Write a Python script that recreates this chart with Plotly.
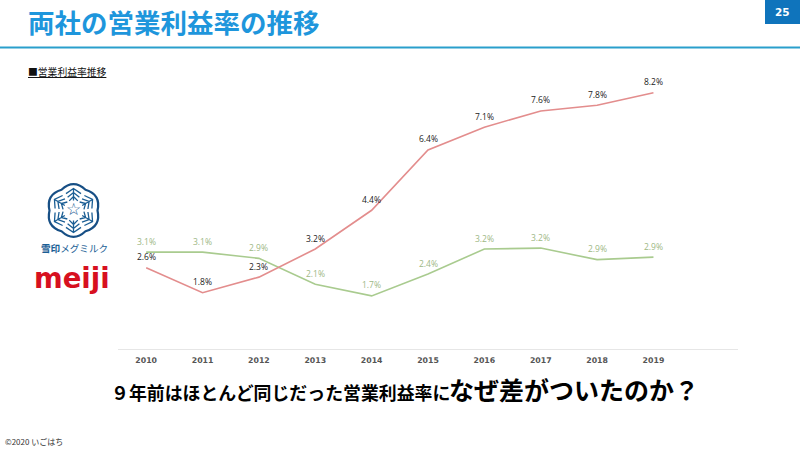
import math
import plotly.graph_objects as go

years = ["2010","2011","2012","2013","2014","2015","2016","2017","2018","2019"]
meiji = [2.6,1.8,2.3,3.2,4.44,6.37,7.1,7.62,7.8,8.2]
megmilk = [3.1,3.1,2.9,2.07,1.7,2.4,3.2,3.23,2.86,2.94]
meiji_labels = [f"{v:.1f}%" for v in meiji]
megmilk_labels = [f"{v:.1f}%" for v in megmilk]

JP = "Noto Sans CJK JP"
W, H = 800, 450
def px(x): return x / W
def py(y): return 1 - y / H

fig = go.Figure()
fig.add_trace(go.Scatter(x=years, y=megmilk, mode="lines", line=dict(color="#A9CB8F", width=1.6),
    cliponaxis=False, showlegend=False, hoverinfo="skip"))
fig.add_trace(go.Scatter(x=years, y=meiji, mode="lines", line=dict(color="#E38D8D", width=1.6),
    cliponaxis=False, showlegend=False, hoverinfo="skip"))

for ys, labels, color in [(megmilk, megmilk_labels, "#9DB885"), (meiji, meiji_labels, "#222222")]:
    for i, (y, t) in enumerate(zip(ys, labels)):
        fig.add_annotation(x=i, y=y, text=t, showarrow=False, yshift=11, yanchor="middle", xanchor="center",
            font=dict(family="Open Sans", size=8.5, color=color))

def text(x, y, s, size, color="#000000", anchor="left", family=JP):
    fig.add_annotation(xref="paper", yref="paper", x=px(x), y=py(y), text=s, showarrow=False,
        xanchor=anchor, yanchor="middle", font=dict(family=family, size=size, color=color), borderpad=0, borderwidth=0)

text(28, 22, "<b>両社の営業利益率の推移</b>", 26.5, "#1E96DC")
text(28, 72, "<u>■営業利益率推移</u>", 9.8, "#111111")
text(782, 12, "<b>25</b>", 10.5, "#FFFFFF", "center", "DejaVu Sans")
text(111, 392, "<b>９年前はほとんど同じだった営業利益率に</b>", 17.9)
text(449, 389, "<b>なぜ差がついたのか？</b>", 25)
text(5, 441, "©2020 いごはち", 8, "#333333")
text(74, 248, "<b>雪印</b>メグミルク", 9.6, "#1B5E94", "center")
text(72, 278, "<b>meiji</b>", 27.5, "#D7101F", "center", "DejaVu Sans")
text(73.5, 209, "☆", 17, "#1B5E94", "center", "DejaVu Sans")

# snowflake emblem of the logo
cx, cy = 73.5, 210.5
def P(r, deg):
    a = math.radians(deg)
    return f"{px(cx + r*math.cos(a))} {py(cy - r*math.sin(a))}"
outline = "M " + P(24, 60)
for d in range(90, 450, 60):
    outline += f" Q {P(32, d)} {P(24, d + 30)}"
outline += " Z"
arms = ""
for d in range(90, 450, 60):
    arms += f" M {P(10, d)} L {P(22, d)}"
    for r in (14, 18, 22):
        arms += f" M {P(r - 3.5, d - 24)} L {P(r, d)} L {P(r - 3.5, d + 24)}"

fig.update_layout(
    width=W, height=H, autosize=False, template=None,
    paper_bgcolor="white", plot_bgcolor="rgba(0,0,0,0)",
    margin=dict(l=0, r=0, t=0, b=0),
    xaxis=dict(type="category", domain=[px(118), px(738)], range=[-0.5, 10.5], showgrid=False, ticks="",
        showline=True, linecolor="#E6E6E6", linewidth=1, zeroline=False, automargin=False,
        ticklabelstandoff=4,
        tickfont=dict(family="DejaVu Sans", size=7.8, color="#555555", weight=700)),
    yaxis=dict(domain=[py(349), 1], range=[0, 11.17], visible=False, showgrid=False, zeroline=False, automargin=False),
    shapes=[
        dict(type="line", xref="paper", yref="paper", x0=0, x1=1, y0=py(47.5), y1=py(47.5),
             line=dict(color="#2A9FCC", width=2)),
        dict(type="rect", xref="paper", yref="paper", x0=px(765), x1=1, y0=py(24), y1=1,
             fillcolor="#0F74BC", line=dict(width=0)),
        dict(type="path", xref="paper", yref="paper", path=outline,
             fillcolor="white", line=dict(color="#174F85", width=2.2)),
        dict(type="path", xref="paper", yref="paper", path=arms,
             line=dict(color="#1B5E94", width=1.3)),
    ],
)
fig.write_html("out.html", config={"displayModeBar": False},
    post_script="document.body.style.margin='0';document.body.style.overflow='hidden';")
